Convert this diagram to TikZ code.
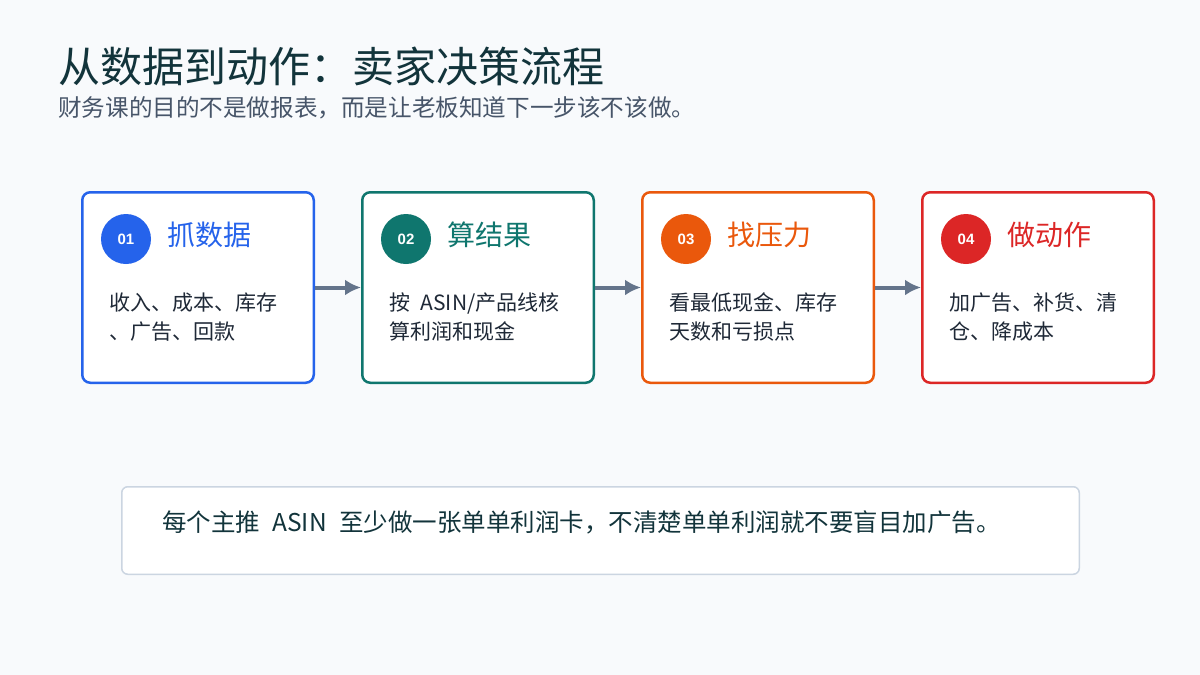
\documentclass[tikz,border=0pt]{standalone}
\usepackage{fontspec}
\setmainfont{Noto Sans CJK SC}
\newfontfamily\numfont{Liberation Sans}
\usetikzlibrary{arrows.meta}
\definecolor{bgcolor}{HTML}{F8FAFC}
\definecolor{titlecolor}{HTML}{12343B}
\definecolor{subcolor}{HTML}{475569}
\definecolor{textcolor}{HTML}{1F2937}
\definecolor{arrowcolor}{HTML}{64748B}
\definecolor{linecolor}{HTML}{CBD5E1}
\definecolor{stepblue}{HTML}{2563EB}
\definecolor{stepteal}{HTML}{0F766E}
\definecolor{steporange}{HTML}{EA580C}
\definecolor{stepred}{HTML}{DC2626}

\begin{document}
\begin{tikzpicture}[x=1pt,y=-1pt,>={Latex[length=16pt,width=16pt]}]
\def\xs{280}
\useasboundingbox[fill=bgcolor] (0,0) rectangle (1200,675);
\node[anchor=west,inner sep=0,text=titlecolor,font=\fontsize{42}{50}\selectfont] (title) at (58,66) {从数据到动作：卖家决策流程};
\node[anchor=west,inner sep=0,text=subcolor,font=\fontsize{23.6}{28}\selectfont] (subtitle) at (58,108) {财务课的目的不是做报表，而是让老板知道下一步该不该做。};
\foreach \i/\col/\head/\body in {1/stepblue/抓数据/{收入、成本、库存\\、广告、回款}, 2/stepteal/算结果/{按\enspace ASIN/产品线核\\算利润和现金}, 3/steporange/找压力/{看最低现金、库存\\天数和亏损点}, 4/stepred/做动作/{加广告、补货、清\\仓、降成本}}
{
    \node[draw=\col,line width=2.5pt,fill=white,rounded corners=8pt,minimum width=231.5pt,minimum height=190.5pt] (box\i) at (198+\i*\xs-\xs,287.5) {};
    \node[circle,fill=\col,inner sep=0,minimum size=50pt,text=white,font=\numfont\bfseries\fontsize{15}{15}\selectfont] (num\i) at ([shift={(45,48)}]box\i.north west) {0\i};
    \node[anchor=west,inner sep=0,text=\col,font=\fontsize{28}{32}\selectfont] (head\i) at ([shift={(86,44)}]box\i.north west) {\head};
    \node[anchor=north west,inner sep=0,align=left,text=textcolor,font=\fontsize{21}{29}\selectfont] (body\i) at ([shift={(28,101.5)}]box\i.north west) {\body};
}
\foreach \i/\j in {1/2, 2/3, 3/4}
    \draw[->,arrowcolor,line width=4pt] (box\i) -- (box\j);
\node[draw=linecolor,line width=1.5pt,fill=white,rounded corners=6pt,minimum width=957.5pt,minimum height=87.5pt] (tip) at (600.5,530.5) {};
\node[anchor=west,inner sep=0,text=titlecolor,font=\fontsize{24.5}{28}\selectfont] (tiptext) at (162,522) {每个主推\enspace ASIN\enspace 至少做一张单单利润卡，不清楚单单利润就不要盲目加广告。};
\end{tikzpicture}
\end{document}
